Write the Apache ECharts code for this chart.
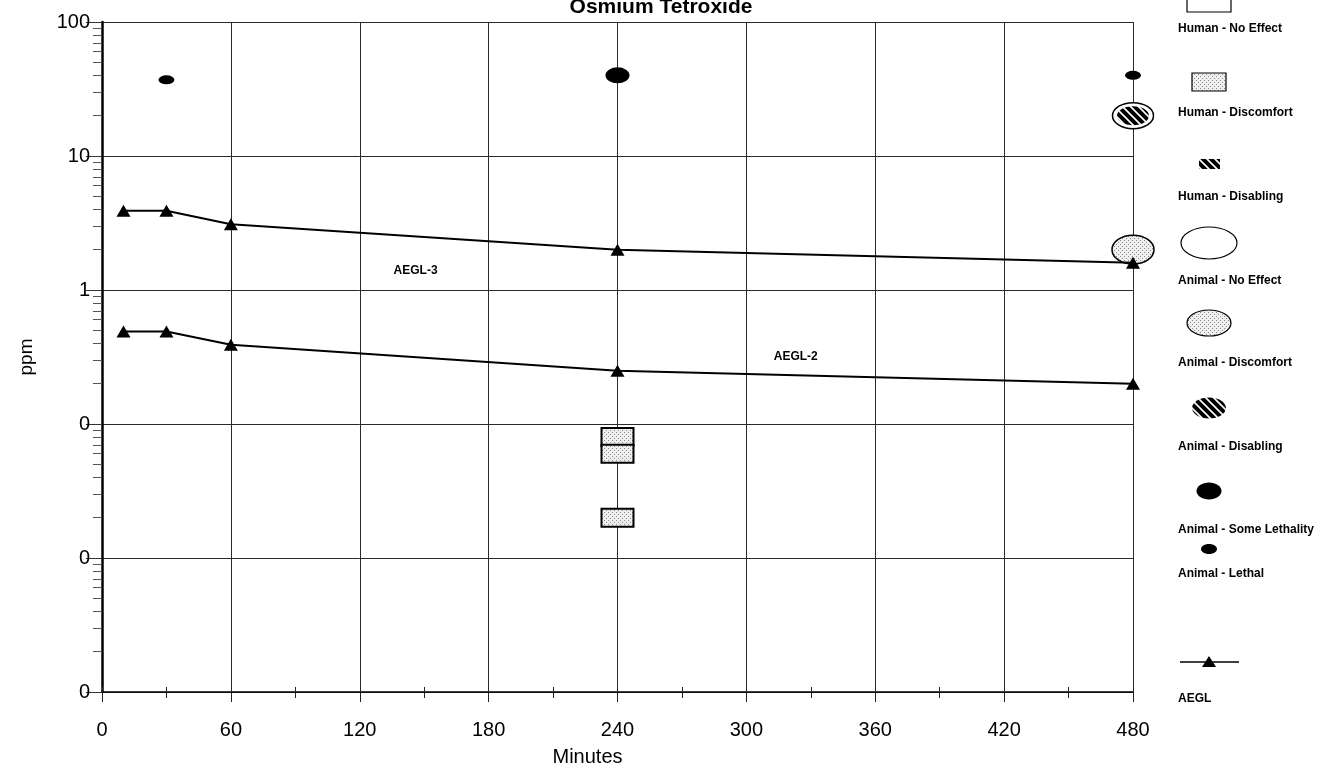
<!DOCTYPE html>
<html>
<head>
<meta charset="utf-8">
<script src="https://cdn.jsdelivr.net/npm/echarts@6/dist/echarts.min.js"></script>
<style>
  html, body { margin: 0; padding: 0; background: #ffffff; }
  #chart { width: 1330px; height: 768px; }
</style>
</head>
<body>
<div id="chart"></div>
<script>
// Exposure durations (minutes) at which AEGL values are defined
const aeglMinutes = [10, 30, 60, 240, 480];
// AEGL-3 and AEGL-2 concentrations (ppm)
const aegl3 = [3.9, 3.9, 3.1, 2.0, 1.6];
const aegl2 = [0.49, 0.49, 0.39, 0.25, 0.20];

// Toxicity observations: [minutes, ppm]
const humanDiscomfort = [[240, 0.08], [240, 0.06], [240, 0.02]];
const animalDiscomfort = [[480, 2.0]];
const animalDisabling = [[480, 20]];
const animalSomeLethality = [[240, 40]];
const animalLethal = [[30, 37], [480, 40]];

// Curve annotations: [minutes, ppm, text]
const curveLabels = [[146, 1.39, 'AEGL-3'], [323, 0.32, 'AEGL-2']];

// Axis extents and tick settings
const xRange = [0, 480];
const xMajorStep = 60;
const xMinorStep = 30;
const yRange = [0.001, 100];
const yDecades = [0.001, 0.01, 0.1, 1, 10];
const yMinorMultipliers = [2, 3, 4, 5, 6, 7, 8, 9];

const legendItems = [
  'Human - No Effect', 'Human - Discomfort', 'Human - Disabling',
  'Animal - No Effect', 'Animal - Discomfort', 'Animal - Disabling',
  'Animal - Some Lethality', 'Animal - Lethal', 'AEGL'
];

const yMinorTicks = [];
yDecades.forEach(d => yMinorMultipliers.forEach(m => yMinorTicks.push(+(d * m).toPrecision(3))));

// Fill patterns: light stipple and diagonal hatching
function makeStipple() {
  const c = document.createElement('canvas');
  c.width = 4; c.height = 4;
  const g = c.getContext('2d');
  g.fillStyle = '#efefef';
  g.fillRect(0, 0, 4, 4);
  g.fillStyle = '#8a8a8a';
  g.fillRect(0, 0, 1, 1);
  g.fillRect(2, 2, 1, 1);
  return c;
}
function makeHatch() {
  const s = 8;
  const c = document.createElement('canvas');
  c.width = s; c.height = s;
  const g = c.getContext('2d');
  g.fillStyle = '#000000';
  g.fillRect(0, 0, s, s);
  g.strokeStyle = '#ffffff';
  g.lineWidth = 1.6;
  g.beginPath();
  g.moveTo(-2, -2); g.lineTo(s + 2, s + 2);
  g.moveTo(-2 - s, -2); g.lineTo(2, s + 2);
  g.moveTo(s - 2, -2); g.lineTo(2 * s + 2, s + 2);
  g.stroke();
  return c;
}
const stipple = { image: makeStipple(), repeat: 'repeat' };
const hatch = { image: makeHatch(), repeat: 'repeat' };

const FONT = '"Liberation Sans", Arial, sans-serif';
const chart = echarts.init(document.getElementById('chart'), null, { renderer: 'canvas' });

// Marker renderers for patterned observations (pattern kept at native pixel scale)
function ellipseMarker(rx, ry, style) {
  return function (params, api) {
    const p = api.coord([api.value(0), api.value(1)]);
    return { type: 'ellipse', shape: { cx: p[0], cy: p[1], rx: rx, ry: ry }, style: style };
  };
}
function ringedEllipseMarker(rxOut, ryOut, rxIn, ryIn, innerFill) {
  return function (params, api) {
    const p = api.coord([api.value(0), api.value(1)]);
    return {
      type: 'group',
      children: [
        { type: 'ellipse', shape: { cx: p[0], cy: p[1], rx: rxOut, ry: ryOut }, style: { fill: '#fff', stroke: '#000', lineWidth: 1.5 } },
        { type: 'ellipse', shape: { cx: p[0], cy: p[1], rx: rxIn, ry: ryIn }, style: { fill: innerFill } }
      ]
    };
  };
}
function rectMarker(w, h, style) {
  return function (params, api) {
    const p = api.coord([api.value(0), api.value(1)]);
    return { type: 'rect', shape: { x: p[0] - w / 2, y: p[1] - h / 2, width: w, height: h }, style: style };
  };
}

// Legend drawn at the right: icon above its caption
const legX = 1209;
const labX = 1178;
const legendGraphics = [
  { type: 'rect', shape: { x: legX - 22, y: -8, width: 44, height: 20 }, style: { fill: '#fff', stroke: '#000', lineWidth: 1.2 } },
  { type: 'rect', shape: { x: legX - 17, y: 73, width: 34, height: 18 }, style: { fill: stipple, stroke: '#000', lineWidth: 1.2 } },
  { type: 'rect', shape: { x: legX - 10, y: 159, width: 21, height: 10 }, style: { fill: hatch } },
  { type: 'ellipse', shape: { cx: legX, cy: 243, rx: 28, ry: 16 }, style: { fill: '#fff', stroke: '#000', lineWidth: 1.2 } },
  { type: 'ellipse', shape: { cx: legX, cy: 323, rx: 22, ry: 13 }, style: { fill: stipple, stroke: '#000', lineWidth: 1.2 } },
  { type: 'ellipse', shape: { cx: legX, cy: 408, rx: 17, ry: 10.5 }, style: { fill: hatch } },
  { type: 'ellipse', shape: { cx: legX, cy: 491, rx: 12.5, ry: 8.5 }, style: { fill: '#000' } },
  { type: 'ellipse', shape: { cx: legX, cy: 549, rx: 8, ry: 5 }, style: { fill: '#000' } },
  { type: 'line', shape: { x1: labX + 2, y1: 662, x2: legX + 30, y2: 662 }, style: { stroke: '#000', lineWidth: 1.5 } },
  { type: 'polygon', shape: { points: [[legX - 7, 667], [legX + 7, 667], [legX, 656]] }, style: { fill: '#000' } }
];
const legendLabelY = [29, 113, 197, 281, 363, 447, 530, 574, 699];
legendItems.forEach((name, i) => {
  legendGraphics.push({
    type: 'text', x: labX, y: legendLabelY[i],
    style: { text: name, font: 'bold 12px ' + FONT, fill: '#000', textVerticalAlign: 'middle', textAlign: 'left' }
  });
});

const option = {
  backgroundColor: '#ffffff',
  animation: false,
  title: {
    text: 'Osmium Tetroxide',
    left: 656, top: -8, textAlign: 'center',
    textStyle: { fontFamily: FONT, fontSize: 21, fontWeight: 'bold', color: '#000' }
  },
  grid: { left: 102, right: 197, top: 22, bottom: 76, containLabel: false, outerBoundsMode: 'none' },
  xAxis: [
    {
      type: 'value', min: xRange[0], max: xRange[1], interval: xMajorStep,
      name: 'Minutes', nameLocation: 'middle', nameGap: 55,
      nameTextStyle: { fontFamily: FONT, fontSize: 20, color: '#000', padding: [0, 60, 0, 0] },
      axisLine: { show: true, onZero: false, lineStyle: { color: '#000', width: 1.5 } },
      axisTick: { show: true, length: 10, lineStyle: { color: '#222', width: 1 } },
      minorTick: { show: true, splitNumber: 2, length: 6, lineStyle: { color: '#222', width: 1 } },
      axisLabel: { margin: 28, fontFamily: FONT, fontSize: 20, color: '#000' },
      splitLine: { show: true, lineStyle: { color: '#2a2a2a', width: 1 } }
    },
    {
      type: 'value', min: xRange[0], max: xRange[1], interval: xMinorStep, position: 'bottom',
      axisLine: { show: false, onZero: false },
      axisTick: { show: true, inside: true, length: 5, lineStyle: { color: '#222', width: 1 } },
      axisLabel: { show: false }, splitLine: { show: false }
    }
  ],
  yAxis: [
    {
      type: 'log', logBase: 10, min: yRange[0], max: yRange[1],
      name: 'ppm', nameLocation: 'middle', nameGap: 66, nameRotate: 90,
      nameTextStyle: { fontFamily: FONT, fontSize: 19, color: '#000' },
      axisLine: { show: true, lineStyle: { color: '#000', width: 2.5 } },
      axisTick: { show: true, length: 16, lineStyle: { color: '#333', width: 1 } },
      axisLabel: {
        margin: 12, fontFamily: FONT, fontSize: 20, color: '#000',
        formatter: v => (v >= 1 ? String(Math.round(v)) : '0')
      },
      splitLine: { show: true, lineStyle: { color: '#2a2a2a', width: 1 } }
    },
    {
      type: 'log', logBase: 10, min: yRange[0], max: yRange[1], position: 'left',
      axisLine: { show: false },
      axisTick: { show: true, length: 9, customValues: yMinorTicks, lineStyle: { color: '#555', width: 1 } },
      axisLabel: { show: false }, splitLine: { show: false }
    }
  ],
  series: [
    {
      name: 'Animal - Discomfort', type: 'custom', z: 2, data: animalDiscomfort,
      renderItem: ellipseMarker(21, 14.5, { fill: stipple, stroke: '#000', lineWidth: 1.5 })
    },
    {
      name: 'Animal - Disabling', type: 'custom', z: 2, data: animalDisabling,
      renderItem: ringedEllipseMarker(20.5, 13, 16, 9.5, hatch)
    },
    {
      name: 'Animal - Some Lethality', type: 'scatter', z: 2, data: animalSomeLethality,
      symbol: 'circle', symbolSize: [24, 16], itemStyle: { color: '#000', opacity: 1 }
    },
    {
      name: 'Animal - Lethal', type: 'scatter', z: 2, data: animalLethal,
      symbol: 'circle', symbolSize: [16, 9], itemStyle: { color: '#000', opacity: 1 }
    },
    {
      name: 'Human - Discomfort', type: 'custom', z: 2, data: humanDiscomfort,
      renderItem: rectMarker(32, 18, { fill: stipple, stroke: '#000', lineWidth: 2 })
    },
    {
      name: 'AEGL-3', type: 'line', z: 4, data: aeglMinutes.map((t, i) => [t, aegl3[i]]),
      symbol: 'triangle', symbolSize: [14, 12], showAllSymbol: true,
      itemStyle: { color: '#000' }, lineStyle: { color: '#000', width: 2 }
    },
    {
      name: 'AEGL-2', type: 'line', z: 4, data: aeglMinutes.map((t, i) => [t, aegl2[i]]),
      symbol: 'triangle', symbolSize: [14, 12], showAllSymbol: true,
      itemStyle: { color: '#000' }, lineStyle: { color: '#000', width: 2 }
    },
    {
      name: 'Curve labels', type: 'scatter', z: 5, symbolSize: 0,
      itemStyle: { opacity: 1 },
      data: curveLabels.map(d => ({ value: [d[0], d[1]], label: { formatter: d[2] } })),
      label: { show: true, position: 'inside', fontFamily: FONT, fontSize: 12, fontWeight: 'bold', color: '#000', opacity: 1 }
    }
  ],
  graphic: legendGraphics
};

chart.setOption(option);
</script>
</body>
</html>
